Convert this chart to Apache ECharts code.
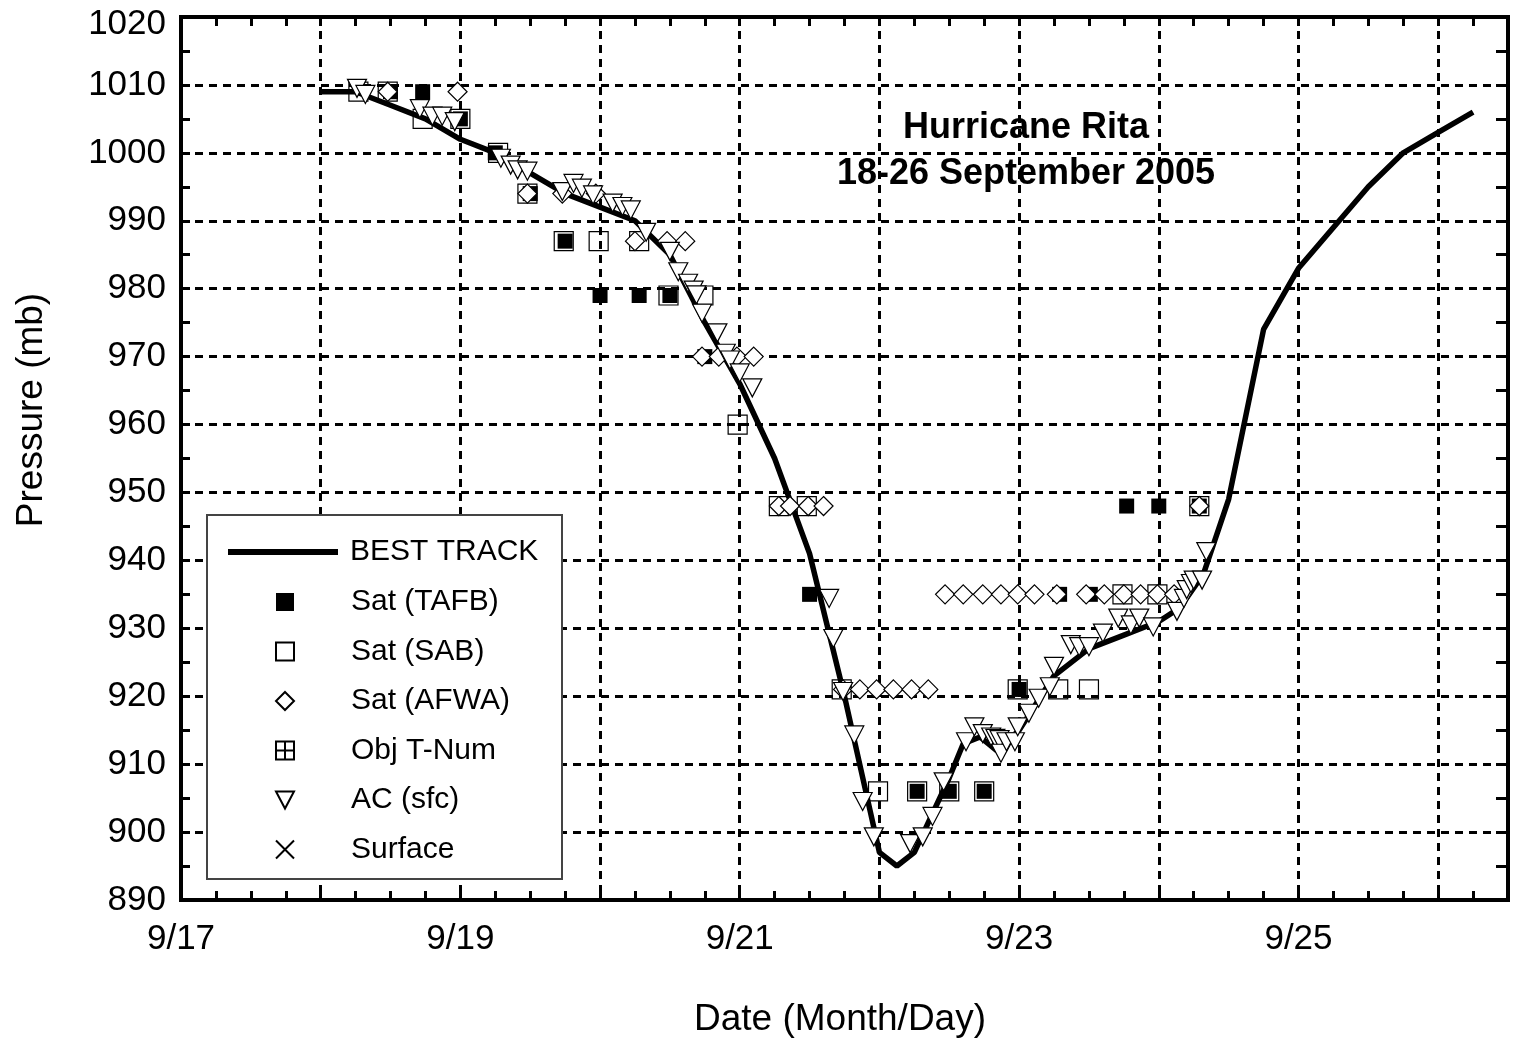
<!DOCTYPE html>
<html><head><meta charset="utf-8">
<script src="https://cdn.jsdelivr.net/npm/echarts@6/dist/echarts.min.js"></script>
<style>html,body{margin:0;padding:0;background:#fff}#c{width:1521px;height:1045px}</style>
</head><body><div id="c"></div>
<script>
// ---- data (day of September, pressure mb) ----
const bestTrack = [[18.0,1009],[18.25,1009],[18.5,1007],[18.75,1005],[19.0,1002],[19.25,1000],[19.5,997],[19.75,994],[20.0,992],[20.25,990],[20.5,985],[20.75,975],[21.0,966],[21.25,955],[21.5,941],[21.75,920],[22.0,897],[22.125,895],[22.25,897],[22.5,908],[22.6,913],[22.72,914],[22.84,912],[23.0,915],[23.25,923],[23.5,927],[23.75,929],[24.0,931],[24.15,933],[24.32,938],[24.5,949],[24.75,974],[25.0,983],[25.25,989],[25.5,995],[25.75,1000],[26.0,1003],[26.25,1006]];
const satTAFB = [[18.5,1009],[18.73,1009],[19.0,1005],[19.25,1000],[19.5,994],[19.75,987],[20.0,979],[20.28,979],[20.5,979],[20.75,970],[21.5,935],[22.27,906],[22.5,906],[22.75,906],[23.0,921],[23.29,935],[23.51,935],[23.77,948],[24.0,948],[24.29,948]];
const satSAB = [[18.27,1009],[18.48,1009],[18.73,1005],[19.0,1005],[19.27,1000],[19.48,994],[19.74,987],[19.99,987],[20.28,987],[20.49,979],[20.74,979],[20.985,960],[21.28,948],[21.48,948],[21.73,921],[21.99,906],[22.27,906],[22.5,906],[22.75,906],[22.99,921],[23.28,921],[23.5,921],[23.74,935],[23.99,935],[24.29,948]];
const satAFWA = [[18.48,1009],[18.98,1009],[19.48,994],[19.73,994],[19.97,994],[20.25,987],[20.48,987],[20.61,987],[20.73,970],[20.85,970],[20.98,970],[21.1,970],[21.28,948],[21.36,948],[21.49,948],[21.6,948],[21.74,921],[21.86,921],[21.98,921],[22.1,921],[22.23,921],[22.35,921],[22.47,935],[22.6,935],[22.74,935],[22.87,935],[22.99,935],[23.11,935],[23.27,935],[23.48,935],[23.61,935],[23.75,935],[23.87,935],[23.99,935],[24.11,935],[24.29,948]];
const objTNum = [];
const acSfc = [[18.26,1009.5],[18.32,1008.6],[18.71,1006.5],[18.8,1005.4],[18.87,1005.4],[18.96,1004.6],[19.29,999.2],[19.36,998.2],[19.41,997.5],[19.48,997.3],[19.73,994.3],[19.81,995.5],[19.87,994.8],[19.95,993.8],[20.09,992.6],[20.16,992.1],[20.22,991.6],[20.33,988.3],[20.5,985.5],[20.56,982.5],[20.63,980.8],[20.67,979.8],[20.69,979.1],[20.73,976.4],[20.84,973.5],[20.9,970.5],[20.93,969.5],[21.0,967.6],[21.09,965.4],[21.64,934.4],[21.67,928.5],[21.74,920.7],[21.82,914.3],[21.88,904.5],[21.96,899.3],[22.22,898.3],[22.31,899.3],[22.38,902.3],[22.46,907.4],[22.62,913.3],[22.68,915.5],[22.74,914.5],[22.8,914.0],[22.83,913.8],[22.86,913.6],[22.87,911.6],[22.91,913.3],[22.97,913.3],[22.99,915.5],[23.07,917.5],[23.14,919.7],[23.22,921.4],[23.25,924.4],[23.37,927.6],[23.43,927.3],[23.5,927.3],[23.6,929.3],[23.71,931.5],[23.8,930.5],[23.86,931.5],[23.96,930.2],[24.13,932.5],[24.18,934.4],[24.2,935.7],[24.23,936.6],[24.25,937.1],[24.31,937.1],[24.34,941.3]];
const surface = [];
const xLabelDays = [17, 19, 21, 23, 25];
const xLabelTexts = ['9/17', '9/19', '9/21', '9/23', '9/25'];
const legendBest = ['BEST TRACK'];
const legendOthers = ['Sat (TAFB)', 'Sat (SAB)', 'Sat (AFWA)', 'Obj T-Num', 'AC (sfc)', 'Surface'];

const FONT = "'Liberation Sans', Arial, Helvetica, sans-serif";
const grid = {left: 181, right: 13, top: 17, bottom: 145};
const chart = echarts.init(document.getElementById('c'), null, {renderer: 'canvas'});

const tickAxisX = (pos, len) => ({
  type: 'value', gridIndex: 0, min: 17, max: 26.5, interval: 0.25, position: pos,
  axisLine: {show: false, onZero: false},
  axisTick: {show: true, inside: true, length: len, lineStyle: {color: '#000', width: 3}},
  axisLabel: {show: false}, splitLine: {show: false}
});
const tickAxisY = (pos, len) => ({
  type: 'value', gridIndex: 0, min: 890, max: 1020, interval: 5, position: pos,
  axisLine: {show: false, onZero: false},
  axisTick: {show: true, inside: true, length: len, lineStyle: {color: '#000', width: 3}},
  axisLabel: {show: false}, splitLine: {show: false}
});
const gridLine = {show: true, lineStyle: {color: '#000', width: 3, type: [8, 6]}};
const triDown = 'path://M0,0L20,0L10,19Z';

const option = {
  animation: false,
  backgroundColor: '#fff',
  grid: Object.assign({show: true, borderColor: '#000', borderWidth: 4, backgroundColor: 'transparent'}, grid),
  xAxis: [
    {
      type: 'value', gridIndex: 0, min: 17, max: 26.5, interval: 1, position: 'bottom',
      axisLine: {show: false, onZero: false}, axisTick: {show: false},
      axisLabel: {
        show: true, fontSize: 35, color: '#000', fontFamily: FONT, margin: 22,
        formatter: v => { const i = xLabelDays.indexOf(Math.round(v * 1000) / 1000); return i >= 0 ? xLabelTexts[i] : ''; }
      },
      splitLine: gridLine
    },
    tickAxisX('bottom', 9),
    tickAxisX('top', 9)
  ],
  yAxis: [
    {
      type: 'value', gridIndex: 0, min: 890, max: 1020, interval: 10, position: 'left',
      axisLine: {show: false, onZero: false}, axisTick: {show: false},
      axisLabel: {
        show: true, fontSize: 35, color: '#000', fontFamily: FONT, margin: 15,
        formatter: v => (v >= 1020 ? '{t|' + String(Math.round(v)) + '}' : String(Math.round(v))),
        rich: {t: {fontSize: 35, color: '#000', fontFamily: FONT, padding: [14, 0, 0, 0]}}
      },
      splitLine: gridLine
    },
    tickAxisY('left', 9),
    tickAxisY('right', 12)
  ],
  legend: [
    {
      data: [{name: legendBest[0], icon: 'rect'}], orient: 'vertical', left: 228, top: 537, padding: 0, z: 10,
      itemWidth: 110, itemHeight: 6, selectedMode: false,
      textStyle: {fontSize: 30, color: '#000', fontFamily: FONT, lineHeight: 30, padding: [0, 0, 0, 7]}
    },
    {
      data: legendOthers, orient: 'vertical', left: 275, top: 587, padding: 0, z: 10,
      itemWidth: 18, itemHeight: 18, itemGap: 19.5, selectedMode: false,
      textStyle: {fontSize: 30, color: '#000', fontFamily: FONT, lineHeight: 30, padding: [0, 0, 0, 52]}
    }
  ],
  graphic: [
    {type: 'rect', z: 3, shape: {x: 207, y: 515, width: 355, height: 364},
      style: {fill: '#fff', stroke: '#444', lineWidth: 2}},
    {type: 'text', z: 5, x: 1026, y: 128,
      style: {text: 'Hurricane Rita', fontSize: 36, fontWeight: 'bold', fontFamily: FONT, fill: '#000', align: 'center', verticalAlign: 'middle'}},
    {type: 'text', z: 5, x: 1026, y: 174,
      style: {text: '18-26 September 2005', fontSize: 36, fontWeight: 'bold', fontFamily: FONT, fill: '#000', align: 'center', verticalAlign: 'middle'}},
    {type: 'text', z: 5, x: 840, y: 1020,
      style: {text: 'Date (Month/Day)', fontSize: 37, fontFamily: FONT, fill: '#000', align: 'center', verticalAlign: 'middle'}},
    {type: 'text', z: 5, x: 32, y: 410, rotation: Math.PI / 2,
      style: {text: 'Pressure (mb)', fontSize: 37, fontFamily: FONT, fill: '#000', align: 'center', verticalAlign: 'middle'}}
  ],
  series: [
    {name: 'BEST TRACK', type: 'line', data: bestTrack, xAxisIndex: 0, yAxisIndex: 0, z: 2,
      symbol: 'none', lineStyle: {color: '#000', width: 5.5}, itemStyle: {color: '#000'}, silent: true},
    {name: 'Sat (TAFB)', type: 'scatter', data: satTAFB, xAxisIndex: 0, yAxisIndex: 0, z: 3,
      symbol: 'rect', symbolSize: 15, itemStyle: {color: '#000', opacity: 1}, silent: true},
    {name: 'Sat (SAB)', type: 'scatter', data: satSAB, xAxisIndex: 0, yAxisIndex: 0, z: 4,
      symbol: 'rect', symbolSize: 19, itemStyle: {color: 'rgba(255,255,255,0)', borderColor: '#000', borderWidth: 1.2, opacity: 1}, silent: true},
    {name: 'Obj T-Num', type: 'scatter', data: objTNum, xAxisIndex: 0, yAxisIndex: 0, z: 4,
      symbol: 'path://M0,0L20,0L20,20L0,20Z M10,0L10,20 M0,10L20,10', symbolSize: 19,
      itemStyle: {color: 'rgba(255,255,255,0)', borderColor: '#000', borderWidth: 1.2, opacity: 1}, silent: true},
    {name: 'Sat (AFWA)', type: 'scatter', data: satAFWA, xAxisIndex: 0, yAxisIndex: 0, z: 5,
      symbol: 'diamond', symbolSize: 19, itemStyle: {color: '#fff', borderColor: '#000', borderWidth: 1.2, opacity: 1}, silent: true},
    {name: 'AC (sfc)', type: 'scatter', data: acSfc, xAxisIndex: 0, yAxisIndex: 0, z: 6,
      symbol: triDown, symbolSize: [19, 18], itemStyle: {color: '#fff', borderColor: '#000', borderWidth: 1.2, opacity: 1}, silent: true},
    {name: 'Surface', type: 'scatter', data: surface, xAxisIndex: 0, yAxisIndex: 0, z: 6,
      symbol: 'path://M0,0L20,20M20,0L0,20', symbolSize: 19,
      itemStyle: {color: 'rgba(255,255,255,0)', borderColor: '#000', borderWidth: 1.2, opacity: 1}, silent: true}
  ]
};
chart.setOption(option);
</script>
</body></html>
